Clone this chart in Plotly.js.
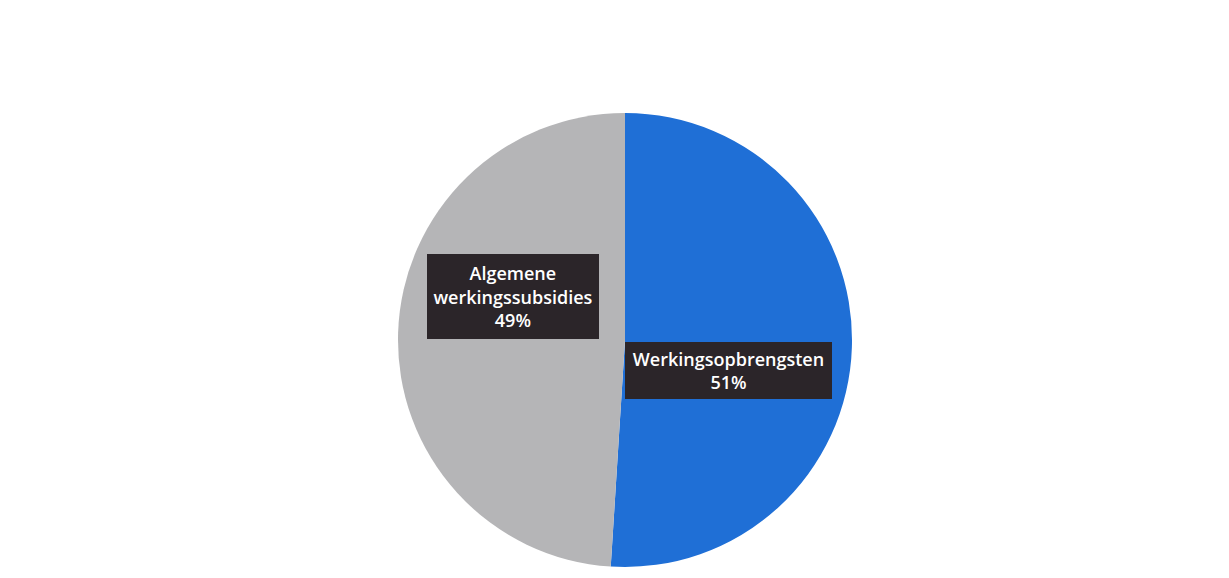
<!DOCTYPE html>
<html>
<head>
<meta charset="utf-8">
<script src="https://cdn.plot.ly/plotly-3.0.1.min.js"></script>
<style>
html,body{margin:0;padding:0;background:#ffffff;}
#chart{width:1229px;height:578px;}
</style>
</head>
<body>
<div id="chart"></div>
<script>
const categories = ["Werkingsopbrengsten", "Algemene werkingssubsidies"];
const labelLines = [["Werkingsopbrengsten"], ["Algemene", "werkingssubsidies"]];
const percentages = [51, 49];
const sliceColors = ["#1f6fd6", "#b5b5b7"];

const W = 1229, H = 578;
const cx = 625, cy = 340, r = 227;

const trace = {
  type: "pie",
  labels: categories,
  values: percentages,
  sort: false,
  direction: "clockwise",
  rotation: 0,
  textinfo: "none",
  hoverinfo: "label+percent",
  marker: {colors: sliceColors, line: {width: 0}},
  domain: {x: [(cx - r) / W, (cx + r) / W], y: [(H - cy - r) / H, (H - cy + r) / H]},
  showlegend: false
};

const labelPos = [[728.5, 370.5], [513, 296.5]];
const labelBox = [[199, 49], [164, 77]];
const annotations = categories.map((c, i) => ({
  x: labelPos[i][0] / W,
  y: 1 - labelPos[i][1] / H,
  xref: "paper", yref: "paper",
  xanchor: "center", yanchor: "middle",
  showarrow: false,
  text: labelLines[i].join("<br>") + "<br>" + percentages[i] + "%",
  font: {family: "Open Sans, sans-serif", size: 18, color: "#ffffff", weight: 600},
  bgcolor: "#2b2529",
  width: labelBox[i][0],
  height: labelBox[i][1],
  borderpad: 4,
  borderwidth: 0,
  align: "center",
  valign: "middle"
}));

const layout = {
  width: W, height: H,
  margin: {l: 0, r: 0, t: 0, b: 0},
  paper_bgcolor: "#ffffff",
  annotations: annotations
};

Plotly.newPlot("chart", [trace], layout, {displayModeBar: false, staticPlot: true});
</script>
</body>
</html>
